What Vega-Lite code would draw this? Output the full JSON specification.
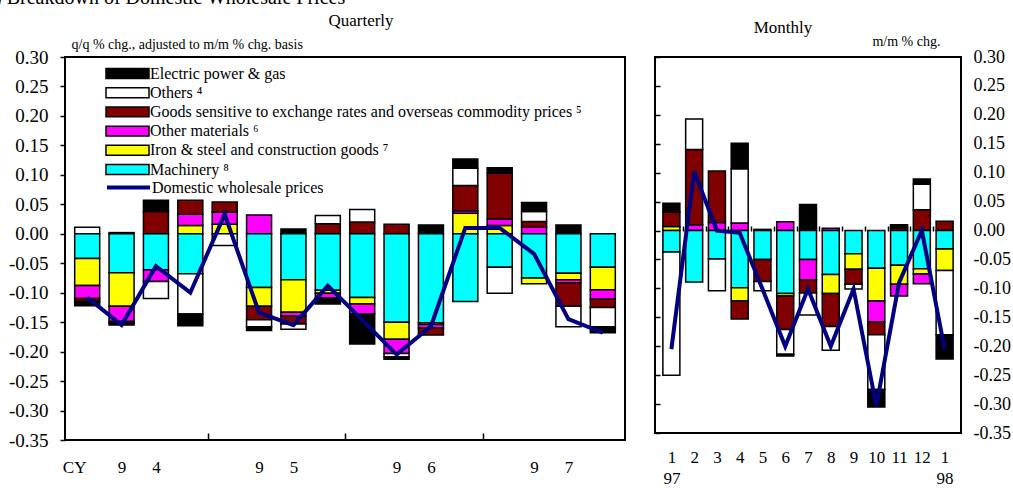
{
  "$schema": "https://vega.github.io/schema/vega-lite/v6.json",
  "padding": {"left": -22, "top": -12, "right": 0, "bottom": 0},
  "background": "white",
  "bounds": "flush",
  "spacing": 30,
  "title": {"text": "(5) Breakdown of Domestic Wholesale Prices", "anchor": "start", "fontSize": 20, "font": "Liberation Serif", "fontWeight": "normal", "color": "black", "dx": -29, "offset": 3},
  "config": {
    "font": "Liberation Serif",
    "view": {"stroke": "black", "strokeWidth": 2},
    "axis": {"labelFont": "Liberation Serif", "labelFontSize": 17, "labelColor": "black", "tickColor": "black", "tickWidth": 1.5, "domain": false, "grid": false, "titleFont": "Liberation Serif", "titleFontWeight": "normal", "titleColor": "black", "labelOverlap": false, "labelFlush": false, "labelBound": false},
    "title": {"font": "Liberation Serif", "fontWeight": "normal", "color": "black"}
  },
  "datasets": {
    "qbars": [
      {"q":1,"c":"Others","v":0.011},{"q":1,"c":"Machinery","v":-0.042},{"q":1,"c":"Iron & steel and construction goods","v":-0.046},{"q":1,"c":"Other materials","v":-0.022},{"q":1,"c":"Goods sensitive to exchange rates and overseas commodity prices","v":-0.005},{"q":1,"c":"Electric power & gas","v":-0.007},
      {"q":2,"c":"Others","v":0.002},{"q":2,"c":"Machinery","v":-0.066},{"q":2,"c":"Iron & steel and construction goods","v":-0.057},{"q":2,"c":"Other materials","v":-0.026},{"q":2,"c":"Goods sensitive to exchange rates and overseas commodity prices","v":-0.003},{"q":2,"c":"Electric power & gas","v":-0.003},
      {"q":3,"c":"Goods sensitive to exchange rates and overseas commodity prices","v":0.038},{"q":3,"c":"Electric power & gas","v":0.019},{"q":3,"c":"Machinery","v":-0.061},{"q":3,"c":"Other materials","v":-0.020},{"q":3,"c":"Others","v":-0.029},
      {"q":4,"c":"Iron & steel and construction goods","v":0.014},{"q":4,"c":"Other materials","v":0.019},{"q":4,"c":"Goods sensitive to exchange rates and overseas commodity prices","v":0.024},{"q":4,"c":"Machinery","v":-0.068},{"q":4,"c":"Others","v":-0.068},{"q":4,"c":"Electric power & gas","v":-0.020},
      {"q":5,"c":"Iron & steel and construction goods","v":0.016},{"q":5,"c":"Other materials","v":0.021},{"q":5,"c":"Goods sensitive to exchange rates and overseas commodity prices","v":0.017},{"q":5,"c":"Others","v":-0.020},
      {"q":6,"c":"Other materials","v":0.032},{"q":6,"c":"Machinery","v":-0.091},{"q":6,"c":"Iron & steel and construction goods","v":-0.032},{"q":6,"c":"Goods sensitive to exchange rates and overseas commodity prices","v":-0.023},{"q":6,"c":"Others","v":-0.012},{"q":6,"c":"Electric power & gas","v":-0.006},
      {"q":7,"c":"Electric power & gas","v":0.008},{"q":7,"c":"Machinery","v":-0.078},{"q":7,"c":"Iron & steel and construction goods","v":-0.055},{"q":7,"c":"Other materials","v":-0.007},{"q":7,"c":"Goods sensitive to exchange rates and overseas commodity prices","v":-0.013},{"q":7,"c":"Others","v":-0.009},
      {"q":8,"c":"Goods sensitive to exchange rates and overseas commodity prices","v":0.017},{"q":8,"c":"Others","v":0.014},{"q":8,"c":"Machinery","v":-0.096},{"q":8,"c":"Iron & steel and construction goods","v":-0.005},{"q":8,"c":"Other materials","v":-0.008},{"q":8,"c":"Electric power & gas","v":-0.010},
      {"q":9,"c":"Goods sensitive to exchange rates and overseas commodity prices","v":0.020},{"q":9,"c":"Others","v":0.021},{"q":9,"c":"Machinery","v":-0.108},{"q":9,"c":"Iron & steel and construction goods","v":-0.011},{"q":9,"c":"Other materials","v":-0.017},{"q":9,"c":"Electric power & gas","v":-0.051},
      {"q":10,"c":"Goods sensitive to exchange rates and overseas commodity prices","v":0.016},{"q":10,"c":"Machinery","v":-0.150},{"q":10,"c":"Iron & steel and construction goods","v":-0.029},{"q":10,"c":"Other materials","v":-0.024},{"q":10,"c":"Others","v":-0.006},{"q":10,"c":"Electric power & gas","v":-0.004},
      {"q":11,"c":"Electric power & gas","v":0.015},{"q":11,"c":"Machinery","v":-0.151},{"q":11,"c":"Iron & steel and construction goods","v":-0.003},{"q":11,"c":"Other materials","v":-0.006},{"q":11,"c":"Goods sensitive to exchange rates and overseas commodity prices","v":-0.012},
      {"q":12,"c":"Iron & steel and construction goods","v":0.035},{"q":12,"c":"Other materials","v":0.004},{"q":12,"c":"Goods sensitive to exchange rates and overseas commodity prices","v":0.043},{"q":12,"c":"Others","v":0.029},{"q":12,"c":"Electric power & gas","v":0.016},{"q":12,"c":"Machinery","v":-0.115},
      {"q":13,"c":"Iron & steel and construction goods","v":0.014},{"q":13,"c":"Other materials","v":0.011},{"q":13,"c":"Goods sensitive to exchange rates and overseas commodity prices","v":0.078},{"q":13,"c":"Electric power & gas","v":0.009},{"q":13,"c":"Machinery","v":-0.057},{"q":13,"c":"Others","v":-0.044},
      {"q":14,"c":"Other materials","v":0.011},{"q":14,"c":"Goods sensitive to exchange rates and overseas commodity prices","v":0.010},{"q":14,"c":"Others","v":0.017},{"q":14,"c":"Electric power & gas","v":0.015},{"q":14,"c":"Machinery","v":-0.075},{"q":14,"c":"Iron & steel and construction goods","v":-0.010},
      {"q":15,"c":"Electric power & gas","v":0.015},{"q":15,"c":"Machinery","v":-0.067},{"q":15,"c":"Iron & steel and construction goods","v":-0.011},{"q":15,"c":"Other materials","v":-0.005},{"q":15,"c":"Goods sensitive to exchange rates and overseas commodity prices","v":-0.040},{"q":15,"c":"Others","v":-0.035},
      {"q":16,"c":"Machinery","v":-0.057},{"q":16,"c":"Iron & steel and construction goods","v":-0.038},{"q":16,"c":"Other materials","v":-0.016},{"q":16,"c":"Goods sensitive to exchange rates and overseas commodity prices","v":-0.014},{"q":16,"c":"Others","v":-0.033},{"q":16,"c":"Electric power & gas","v":-0.010}
    ],
    "qline": [
      {"q":1,"v":-0.108},{"q":2,"v":-0.155},{"q":3,"v":-0.055},{"q":4,"v":-0.100},{"q":5,"v":0.033},{"q":6,"v":-0.134},{"q":7,"v":-0.155},{"q":8,"v":-0.088},
      {"q":9,"v":-0.146},{"q":10,"v":-0.205},{"q":11,"v":-0.157},{"q":12,"v":0.010},{"q":13,"v":0.010},{"q":14,"v":-0.034},{"q":15,"v":-0.145},{"q":16,"v":-0.168}
    ],
    "mbars": [
      {"m":1,"c":"Iron & steel and construction goods","v":0.007},{"m":1,"c":"Goods sensitive to exchange rates and overseas commodity prices","v":0.025},{"m":1,"c":"Electric power & gas","v":0.015},{"m":1,"c":"Machinery","v":-0.037},{"m":1,"c":"Others","v":-0.213},
      {"m":2,"c":"Other materials","v":0.010},{"m":2,"c":"Goods sensitive to exchange rates and overseas commodity prices","v":0.130},{"m":2,"c":"Others","v":0.053},{"m":2,"c":"Machinery","v":-0.089},
      {"m":3,"c":"Other materials","v":0.014},{"m":3,"c":"Goods sensitive to exchange rates and overseas commodity prices","v":0.089},{"m":3,"c":"Machinery","v":-0.049},{"m":3,"c":"Others","v":-0.055},
      {"m":4,"c":"Other materials","v":0.013},{"m":4,"c":"Others","v":0.094},{"m":4,"c":"Electric power & gas","v":0.044},{"m":4,"c":"Machinery","v":-0.099},{"m":4,"c":"Iron & steel and construction goods","v":-0.023},{"m":4,"c":"Goods sensitive to exchange rates and overseas commodity prices","v":-0.031},
      {"m":5,"c":"Electric power & gas","v":0.002},{"m":5,"c":"Machinery","v":-0.050},{"m":5,"c":"Goods sensitive to exchange rates and overseas commodity prices","v":-0.038},{"m":5,"c":"Others","v":-0.016},
      {"m":6,"c":"Other materials","v":0.015},{"m":6,"c":"Machinery","v":-0.109},{"m":6,"c":"Iron & steel and construction goods","v":-0.004},{"m":6,"c":"Goods sensitive to exchange rates and overseas commodity prices","v":-0.058},{"m":6,"c":"Others","v":-0.043},{"m":6,"c":"Electric power & gas","v":-0.003},
      {"m":7,"c":"Electric power & gas","v":0.045},{"m":7,"c":"Machinery","v":-0.050},{"m":7,"c":"Other materials","v":-0.035},{"m":7,"c":"Goods sensitive to exchange rates and overseas commodity prices","v":-0.023},{"m":7,"c":"Others","v":-0.038},
      {"m":8,"c":"Other materials","v":0.004},{"m":8,"c":"Machinery","v":-0.076},{"m":8,"c":"Iron & steel and construction goods","v":-0.033},{"m":8,"c":"Goods sensitive to exchange rates and overseas commodity prices","v":-0.057},{"m":8,"c":"Others","v":-0.041},
      {"m":9,"c":"Machinery","v":-0.040},{"m":9,"c":"Iron & steel and construction goods","v":-0.027},{"m":9,"c":"Goods sensitive to exchange rates and overseas commodity prices","v":-0.026},{"m":9,"c":"Others","v":-0.008},
      {"m":10,"c":"Machinery","v":-0.065},{"m":10,"c":"Iron & steel and construction goods","v":-0.057},{"m":10,"c":"Other materials","v":-0.036},{"m":10,"c":"Goods sensitive to exchange rates and overseas commodity prices","v":-0.022},{"m":10,"c":"Others","v":-0.095},{"m":10,"c":"Electric power & gas","v":-0.030},
      {"m":11,"c":"Goods sensitive to exchange rates and overseas commodity prices","v":0.005},{"m":11,"c":"Electric power & gas","v":0.005},{"m":11,"c":"Machinery","v":-0.060},{"m":11,"c":"Iron & steel and construction goods","v":-0.033},{"m":11,"c":"Other materials","v":-0.020},
      {"m":12,"c":"Goods sensitive to exchange rates and overseas commodity prices","v":0.036},{"m":12,"c":"Others","v":0.044},{"m":12,"c":"Electric power & gas","v":0.009},{"m":12,"c":"Machinery","v":-0.066},{"m":12,"c":"Iron & steel and construction goods","v":-0.009},{"m":12,"c":"Other materials","v":-0.017},
      {"m":13,"c":"Goods sensitive to exchange rates and overseas commodity prices","v":0.016},{"m":13,"c":"Machinery","v":-0.032},{"m":13,"c":"Iron & steel and construction goods","v":-0.037},{"m":13,"c":"Others","v":-0.111},{"m":13,"c":"Electric power & gas","v":-0.042}
    ],
    "mline": [
      {"m":1,"v":-0.205},{"m":2,"v":0.102},{"m":3,"v":0.000},{"m":4,"v":-0.004},{"m":5,"v":-0.101},{"m":6,"v":-0.200},{"m":7,"v":-0.101},
      {"m":8,"v":-0.200},{"m":9,"v":-0.101},{"m":10,"v":-0.303},{"m":11,"v":-0.090},{"m":12,"v":0.000},{"m":13,"v":-0.205}
    ]
  },
  "hconcat": [
    {
      "width": 560,
      "height": 383,
      "title": {"text": "Quarterly", "fontSize": 17, "frame": "group", "anchor": "middle", "dx": 16, "offset": -6, "baseline": "alphabetic"},
      "layer": [
        {
          "data": {"name": "qbars"},
          "transform": [{"calculate": "indexof(['Machinery','Iron & steel and construction goods','Other materials','Goods sensitive to exchange rates and overseas commodity prices','Others','Electric power & gas'], datum.c)", "as": "ord"}],
          "mark": {"type": "bar", "width": 25, "stroke": "black", "strokeWidth": 1.5},
          "encoding": {
            "x": {"field": "q", "type": "quantitative", "scale": {"domain": [0.5, 16.5], "nice": false, "zero": false},
                  "axis": {"orient": "bottom", "values": [4.5, 8.5, 12.5], "labels": false, "ticks": true, "tickSize": -7, "title": null}},
            "y": {"field": "v", "type": "quantitative", "stack": "zero", "scale": {"domain": [-0.35, 0.30], "nice": false},
                  "axis": {"orient": "left", "values": [-0.35,-0.30,-0.25,-0.20,-0.15,-0.10,-0.05,0,0.05,0.10,0.15,0.20,0.25,0.30],
                           "labelExpr": "(datum.value < -0.001 ? '-' : '') + format(abs(datum.value), '.2f')",
                           "labelFontSize": 19, "tickSize": 5, "labelPadding": 12,
                           "title": "q/q % chg., adjusted to m/m % chg. basis", "titleAngle": 0, "titleAlign": "left", "titleBaseline": "alphabetic", "titleX": 6, "titleY": -9, "titleFontSize": 14}},
            "color": {"field": "c", "type": "nominal",
                      "scale": {"domain": ["Electric power & gas","Others","Goods sensitive to exchange rates and overseas commodity prices","Other materials","Iron & steel and construction goods","Machinery"],
                                "range": ["#000000","#ffffff","#800000","#ff00ff","#ffff00","#00ffff"]},
                      "legend": {"orient": "none", "legendX": 40, "legendY": 9, "title": null, "padding": 0, "clipHeight": 15, "rowPadding": 2.2,
                                 "symbolType": "M-1,-0.23H1V0.23H-1Z", "symbolSize": 1849, "symbolOffset": 0, "symbolStrokeColor": "black", "symbolStrokeWidth": 1.5,
                                 "labelOffset": 0, "labelFont": "Liberation Serif", "labelFontSize": 16, "labelColor": "black", "labelLimit": 600, "labelBaseline": "middle",
                                 "labelExpr": "datum.label + (datum.label == 'Others' ? ' ⁴' : datum.label == 'Other materials' ? ' ⁶' : datum.label == 'Iron & steel and construction goods' ? ' ⁷' : datum.label == 'Machinery' ? ' ⁸' : datum.label == 'Goods sensitive to exchange rates and overseas commodity prices' ? '      ⁵' : '')"}},
            "order": {"field": "ord", "type": "quantitative"}
          }
        },
        {
          "mark": {"type": "rule", "color": "black", "strokeWidth": 2},
          "encoding": {"y": {"datum": 0, "type": "quantitative", "axis": null}}
        },
        {
          "data": {"name": "qline"},
          "mark": {"type": "line", "strokeWidth": 4},
          "encoding": {
            "x": {"field": "q", "type": "quantitative",
                  "axis": {"orient": "bottom", "values": [0.62, 2, 3, 6, 7, 10, 11, 14, 15], "ticks": false, "labelPadding": 19, "title": null,
                           "labelExpr": "datum.value < 1 ? 'CY' : indexof([2,6,10,14], datum.value) >= 0 ? '9' : datum.value == 3 ? '4' : datum.value == 7 ? '5' : datum.value == 11 ? '6' : '7'"}},
            "y": {"field": "v", "type": "quantitative", "axis": null},
            "stroke": {"datum": "Domestic wholesale prices", "type": "nominal", "scale": {"range": ["#000080"]},
                       "legend": {"orient": "none", "legendX": 40, "legendY": 123, "title": null, "padding": 0, "clipHeight": 15,
                                  "symbolType": "stroke", "symbolSize": 1849, "symbolOffset": 0, "symbolStrokeWidth": 4, "symbolStrokeColor": "#000080",
                                  "labelOffset": 0, "labelFont": "Liberation Serif", "labelFontSize": 16, "labelColor": "black", "labelLimit": 600, "labelBaseline": "middle"}}
          }
        }
      ],
      "resolve": {"axis": {"x": "independent", "y": "independent"}}
    },
    {
      "width": 306,
      "height": 376,
      "title": {"text": "Monthly", "fontSize": 17, "frame": "group", "anchor": "middle", "dx": -25, "offset": -16, "baseline": "alphabetic"},
      "layer": [
        {
          "data": {"name": "mbars"},
          "transform": [{"calculate": "indexof(['Machinery','Iron & steel and construction goods','Other materials','Goods sensitive to exchange rates and overseas commodity prices','Others','Electric power & gas'], datum.c)", "as": "ord"}],
          "mark": {"type": "bar", "width": 17, "stroke": "black", "strokeWidth": 1.5},
          "encoding": {
            "x": {"field": "m", "type": "quantitative", "scale": {"domain": [0.5, 13.5], "nice": false, "zero": false},
                  "axis": {"orient": "bottom", "values": [1,2,3,4,5,6,7,8,9,10,11,12,13], "ticks": false, "labelPadding": 16, "labelLineHeight": 21, "title": null,
                           "labelExpr": "datum.value == 1 ? ['1','97'] : datum.value == 13 ? ['1','98'] : '' + datum.value"}},
            "y": {"field": "v", "type": "quantitative", "stack": "zero", "scale": {"domain": [-0.35, 0.30], "nice": false},
                  "axis": {"orient": "right", "values": [-0.35,-0.30,-0.25,-0.20,-0.15,-0.10,-0.05,0,0.05,0.10,0.15,0.20,0.25,0.30],
                           "labelExpr": "(datum.value < -0.001 ? '-' : '') + format(abs(datum.value), '.2f')",
                           "labelFontSize": 18, "ticks": false, "tickSize": 0, "labelPadding": 12,
                           "title": "m/m % chg.", "titleAngle": 0, "titleAlign": "right", "titleBaseline": "alphabetic", "titleX": -21, "titleY": -12, "titleFontSize": 14}},
            "color": {"field": "c", "type": "nominal",
                      "scale": {"domain": ["Electric power & gas","Others","Goods sensitive to exchange rates and overseas commodity prices","Other materials","Iron & steel and construction goods","Machinery"],
                                "range": ["#000000","#ffffff","#800000","#ff00ff","#ffff00","#00ffff"]},
                      "legend": null},
            "order": {"field": "ord", "type": "quantitative"}
          }
        },
        {
          "mark": {"type": "rule", "color": "black", "strokeWidth": 2},
          "encoding": {"y": {"datum": 0, "type": "quantitative", "axis": null}}
        },
        {
          "data": {"name": "mline"},
          "mark": {"type": "line", "strokeWidth": 4},
          "encoding": {
            "x": {"field": "m", "type": "quantitative",
                  "axis": {"orient": "bottom", "offset": -202, "values": [1.5,2.5,3.5,4.5,5.5,6.5,7.5,8.5,9.5,10.5,11.5,12.5], "labels": false, "tickSize": -5, "title": null}},
            "y": {"field": "v", "type": "quantitative",
                  "axis": {"orient": "left", "values": [-0.35,-0.30,-0.25,-0.20,-0.15,-0.10,-0.05,0,0.05,0.10,0.15,0.20,0.25,0.30], "labels": false, "tickSize": -5, "title": null}},
            "stroke": {"datum": "Domestic wholesale prices", "type": "nominal", "scale": {"range": ["#000080"]}, "legend": null}
          }
        }
      ],
      "resolve": {"axis": {"x": "independent", "y": "independent"}}
    }
  ],
  "resolve": {"scale": {"color": "independent", "stroke": "independent"}}
}
